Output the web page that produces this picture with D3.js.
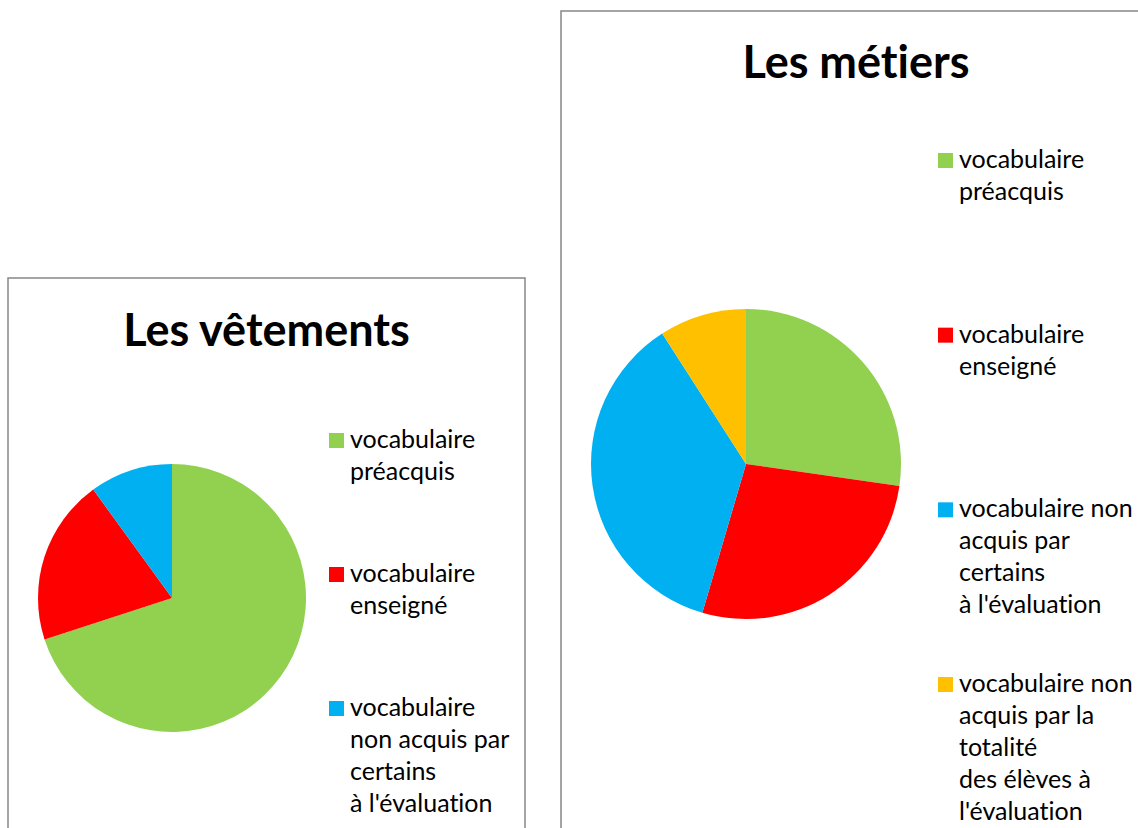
<!DOCTYPE html>
<html>
<head>
<meta charset="utf-8">
<script src="https://cdn.jsdelivr.net/npm/d3@7"></script>
<style>
  body { margin: 0; background: #fff; }
  svg { display: block; font-family: Lato, "Open Sans", sans-serif; font-variant-ligatures: none; font-feature-settings: "liga" 0; }
  .frame { fill: #fff; stroke: #878787; stroke-width: 1.5; }
  .title { font-weight: bold; font-size: 45px; fill: #000; text-anchor: middle; }
  .legend text { font-size: 25px; fill: #000; }
</style>
</head>
<body>
<div id="chart"></div>
<script>
// ---------------------------------------
// data
const colors = ["#92D050", "#FF0000", "#00B0F0", "#FFC000"];

const vetementsTitle = "Les vêtements";
const vetementsValues = [7, 2, 1];
const vetementsLabels = [
  ["vocabulaire", "préacquis"],
  ["vocabulaire", "enseigné"],
  ["vocabulaire", "non acquis par", "certains", "à l'évaluation"]
];

const metiersTitle = "Les métiers";
const metiersValues = [3, 3, 4, 1];
const metiersLabels = [
  ["vocabulaire", "préacquis"],
  ["vocabulaire", "enseigné"],
  ["vocabulaire non", "acquis par", "certains", "à l'évaluation"],
  ["vocabulaire non", "acquis par la", "totalité", "des élèves à", "l'évaluation"]
];

// ---------------------------------------
// svg
const svg = d3.select("#chart")
    .append("svg")
    .attr("width", 1138)
    .attr("height", 828);

const pie = d3.pie().sort(null).value((d) => d);

// draws one chart box: frame, title, pie, legend
function drawChart(cfg) {
  const g = svg.append("g")
      .attr("transform", "translate(" + cfg.x + "," + cfg.y + ")");

  g.append("rect")
      .attr("class", "frame")
      .attr("x", 0)
      .attr("y", 0)
      .attr("width", cfg.w)
      .attr("height", cfg.h);

  g.append("text")
      .attr("class", "title")
      .attr("x", cfg.w / 2)
      .attr("y", cfg.titleY)
      .text(cfg.title);

  const arc = d3.arc().innerRadius(0).outerRadius(cfg.r);

  g.append("g")
      .attr("transform", "translate(" + cfg.cx + "," + cfg.cy + ")")
      .selectAll("path")
      .data(pie(cfg.values))
      .enter()
      .append("path")
      .attr("d", arc)
      .attr("fill", (d, i) => colors[i]);

  // legend entries spaced evenly
  const legendY = d3.scaleLinear()
      .domain([0, cfg.labels.length - 1])
      .range([cfg.legendTop, cfg.legendBottom]);

  const item = g.append("g")
      .attr("class", "legend")
      .selectAll("g")
      .data(cfg.labels)
      .enter()
      .append("g")
      .attr("transform", (d, i) => "translate(" + cfg.legendX + "," + legendY(i) + ")");

  item.append("rect")
      .attr("x", 0)
      .attr("y", -15)
      .attr("width", 15)
      .attr("height", 15)
      .attr("fill", (d, i) => colors[i]);

  item.append("text")
      .selectAll("tspan")
      .data((d) => d)
      .enter()
      .append("tspan")
      .attr("x", 21)
      .attr("y", (d, j) => j * 32)
      .text((d) => d);
}

drawChart({
  x: 8, y: 278, w: 517, h: 600,
  title: vetementsTitle, titleY: 68,
  values: vetementsValues,
  cx: 164, cy: 320, r: 134,
  labels: vetementsLabels,
  legendX: 321, legendTop: 170, legendBottom: 438
});

drawChart({
  x: 561, y: 11, w: 590, h: 900,
  title: metiersTitle, titleY: 67,
  values: metiersValues,
  cx: 185, cy: 453, r: 155,
  labels: metiersLabels,
  legendX: 377, legendTop: 157, legendBottom: 681
});
</script>
</body>
</html>
